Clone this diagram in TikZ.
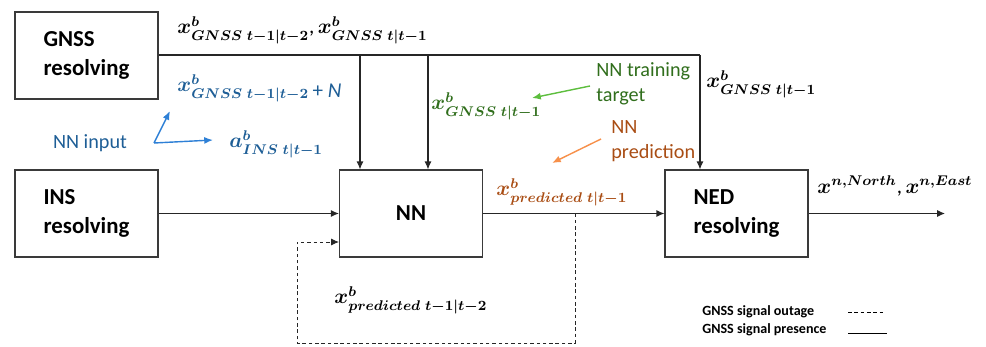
\documentclass[tikz,border=0pt]{standalone}
\usepackage{amsmath,amssymb}
\usepackage{bm}
\usepackage{fontspec}
\setmainfont{Carlito}
\usepackage{xcolor}
\usepackage{tikz}
\usetikzlibrary{
  arrows.meta,
  positioning,
  calc
}
\DeclareMathSizes{12}{11.5}{8.2}{6.5}
\definecolor{inblue}{HTML}{1E5E96}
\definecolor{inarrow}{HTML}{2E80D6}
\definecolor{tgtgreen}{HTML}{306E1C}
\definecolor{tgtarrow}{HTML}{5DBE3E}
\definecolor{predbrown}{HTML}{A94D14}
\definecolor{predarrow}{HTML}{F7904A}
\definecolor{boxline}{HTML}{3A3A3A}
\tikzset{
  blockbox/.style={
    rectangle, draw=boxline, line width=0.7pt, fill=white,
    minimum width=2.86cm, minimum height=1.74cm, align=left,
    font=\fontsize{13}{17}\selectfont\bfseries
  },
  sigline/.style={
    -{Latex[length=4.5pt,width=4pt]}, line width=0.6pt, color=black!85
  },
  outage/.style={
    sigline, line width=0.5pt, dash pattern=on 2pt off 1.6pt
  },
  notearrow/.style={
    -{Latex[length=5pt,width=4pt]}, line width=0.8pt, color=#1
  },
  mathlbl/.style={
    font=\fontsize{12}{14}\selectfont, inner sep=0pt, anchor=west
  },
  notelbl/.style={
    font=\fontsize{11.5}{14}\selectfont, align=left, inner sep=0pt
  },
  legendlbl/.style={
    font=\fontsize{8}{10}\selectfont\bfseries, inner sep=0pt, anchor=west
  },
}

\begin{document}
\begin{tikzpicture}[x=0.2mm, y=-0.2mm]
  \useasboundingbox (0,0) rectangle (986,347);
  % blocks
  \node[blockbox] (gnss) at (86.5,55.5) {GNSS\\resolving};
  \node[blockbox] (ins) at (86.5,213.5) {INS\\resolving};
  \node[blockbox, align=center] (nn) at (411,213.5) {NN};
  \node[blockbox] (ned) at (736.5,213.5) {NED\\resolving};

  % GNSS bus
  \coordinate (tapA) at (360,55);
  \coordinate (tapB) at (428,55);
  \coordinate (busend) at (700,55);
  \draw[line width=0.6pt, color=black!85] (gnss.east |- busend) -- (busend);
  \draw[sigline] (busend) -- (busend |- ned.north);
  \draw[sigline] (tapA) -- (tapA |- nn.north);
  \draw[sigline] (tapB) -- (tapB |- nn.north);

  % main flow
  \draw[sigline] (ins) -- (nn);
  \draw[sigline] (nn) -- (ned);
  \coordinate (outend) at (945,213.5);
  \draw[sigline] (ned) -- (outend);

  % feedback during outage
  \coordinate (split) at (575,213.5);
  \coordinate (loopbot) at (297,343);
  \coordinate (nnin) at (339,242);
  \draw[outage] (split) |- (loopbot) |- (nnin);

  % signal labels
  \node[mathlbl] (xtop) at (177,30)
    {$\bm{x^{b}_{GNSS\;t-1|t-2}}\text{,}\,\bm{x^{b}_{GNSS\;t|t-1}}$};
  \node[mathlbl, color=inblue] (xnoise) at (177,88)
    {$\bm{x^{b}_{GNSS\;t-1|t-2}}$\,\raisebox{-3pt}{+ \textit{N}}};
  \node[mathlbl, color=inblue] (ains) at (229,144)
    {$\bm{a^{b}_{INS\;t|t-1}}$};
  \node[mathlbl, color=tgtgreen] (xtgt) at (431,106)
    {$\bm{x^{b}_{GNSS\;t|t-1}}$};
  \node[mathlbl] (xned) at (706,84)
    {$\bm{x^{b}_{GNSS\;t|t-1}}$};
  \node[mathlbl, color=predbrown] (xpred) at (496,192)
    {$\bm{x^{b}_{predicted\;t|t-1}}$};
  \node[mathlbl] (xprev) at (334,300)
    {$\bm{x^{b}_{predicted\;t-1|t-2}}$};
  \node[mathlbl] (xout) at (817,186)
    {$\bm{x^{n,North}}\text{,}\,\bm{x^{n,East}}$};

  % notes
  \node[notelbl, color=inblue] (nnin-note) at (90,143) {NN input};
  \node[notelbl, color=tgtgreen, anchor=west] (train) at (596,84) {NN training\\target};
  \node[notelbl, color=predbrown, anchor=west] (pred) at (611,141) {NN\\prediction};
  \coordinate (inroot) at (154,143);
  \coordinate (inA) at (170,111);
  \coordinate (inB) at (213,140);
  \coordinate (tgttip) at (532,98);
  \coordinate (predtip) at (552,163);
  \draw[notearrow=inarrow] (inroot) -- (inA);
  \draw[notearrow=inarrow] (inroot) -- (inB);
  \draw[notearrow=tgtarrow] (train.west |- 0,86) ++(-6,0) -- (tgttip);
  \draw[notearrow=predarrow] (601,139) -- (predtip);

  % legend
  \node[legendlbl] (lgout) at (702,312) {GNSS signal outage};
  \node[legendlbl] (lgpres) at (702,330) {GNSS signal presence};
  \coordinate (lgoutA) at (848,312);
  \coordinate (lgoutB) at (885,312);
  \coordinate (lgpresA) at (848,333);
  \coordinate (lgpresB) at (887,333);
  \draw[line width=0.5pt, dash pattern=on 2pt off 1.6pt] (lgoutA) -- (lgoutB);
  \draw[line width=0.5pt] (lgpresA) -- (lgpresB);
\end{tikzpicture}
\end{document}
